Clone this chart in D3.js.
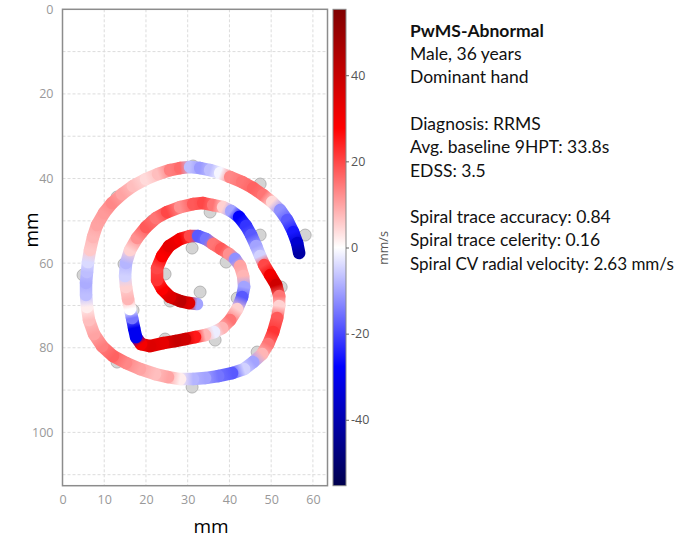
<!DOCTYPE html>
<html>
<head>
<meta charset="utf-8">
<script src="https://cdn.jsdelivr.net/npm/d3@7"></script>
<style>
  body { margin: 0; background: #fff; }
  svg { display: block; }
</style>
</head>
<body>
<div id="chart"></div>
<script>
// spiral trace, centre -> outside (mm), radial velocity (mm/s)
const traceX = [32.25, 30.33, 28.18, 25.78, 23.86, 22.66, 22.66, 23.86, 25.54, 28.18,
  30.57, 32.49, 34.41, 36.09, 38.01, 39.93, 41.37, 42.56, 43.28, 43.52,
  43.04, 41.85, 40.17, 38.25, 36.33, 34.17, 31.77, 29.38, 26.98, 24.10,
  20.98, 18.82, 17.63, 17.15, 16.67, 16.19, 15.71, 15.23, 14.99, 15.23,
  16.19, 17.87, 20.02, 22.42, 25.06, 28.18, 31.29, 33.69, 36.09, 38.49,
  40.41, 42.32, 44.00, 45.20, 46.40, 47.36, 48.32, 49.76, 51.20, 51.92,
  51.92, 51.44, 50.48, 49.28, 47.84, 45.68, 43.52, 40.65, 37.29, 34.17,
  31.29, 28.18, 25.30, 22.18, 18.58, 15.23, 12.11, 9.47, 7.55, 6.35,
  5.88, 5.64, 5.64, 5.88, 6.11, 6.59, 7.31, 8.27, 9.95, 11.87,
  14.27, 16.91, 20.02, 22.90, 25.78, 28.18, 30.57, 32.97, 35.37, 37.77,
  40.17, 43.04, 45.68, 48.08, 50.24, 52.16, 53.84, 55.27, 56.23, 56.71];
const traceY = [69.67, 69.43, 68.96, 68.01, 66.12, 63.99, 61.16, 58.32, 55.96, 54.30,
  53.59, 53.59, 54.30, 55.48, 56.66, 57.85, 59.03, 60.68, 63.05, 65.65,
  68.01, 70.85, 73.45, 75.34, 76.29, 77.00, 77.47, 77.94, 78.41, 78.89,
  79.60, 79.12, 77.47, 75.34, 72.98, 70.85, 68.49, 65.65, 63.05, 59.97,
  56.90, 54.06, 51.46, 49.34, 47.92, 46.74, 46.03, 45.79, 46.26, 46.74,
  47.68, 49.10, 51.23, 53.36, 55.96, 58.32, 60.45, 62.81, 65.18, 67.78,
  70.14, 72.98, 76.29, 79.12, 81.49, 83.38, 85.03, 85.98, 86.69, 87.16,
  87.40, 87.40, 86.92, 86.21, 85.03, 83.61, 81.96, 79.60, 76.76, 73.45,
  70.38, 67.54, 64.70, 62.10, 59.74, 56.90, 53.83, 50.99, 48.15, 45.79,
  43.66, 41.77, 40.12, 38.94, 37.99, 37.52, 37.28, 37.52, 37.99, 38.70,
  39.65, 40.83, 42.25, 43.90, 45.56, 47.45, 49.81, 52.65, 55.25, 57.61];
const traceV = [-10, 35, 42, 35, 28, 22, 20, 28, 33, 30,
  20, -18, -15, 15, 18, 12, -12, 10, 8, -10,
  -18, 5, 15, 8, -2, 8, 25, 38, 40, 33,
  35, 30, -30, -30, -15, 0, 8, 5, -5, -8,
  5, 12, 18, 15, 20, 12, 18, 20, 15, 5,
  -10, -28, -22, -18, -10, -5, 20, 30, 38, 15,
  5, 18, 22, 15, 8, -10, -5, -18, -15, -10,
  -8, 2, 10, 7, 10, 13, 17, 14, 10, 7,
  2, -7, -9, -7, -4, 6, 8, 10, 11, 13,
  10, 7, 4, 7, 14, 16, -7, -11, -7, -1,
  13, 15, 17, 15, 4, -12, -18, -25, -35, -42];

// template reference points (mm)
const refX = [47.36, 58.15, 47.36, 35.37, 21.46, 13.07, 31.05, 39.21, 4.92, 24.58,
  32.97, 25.78, 41.85, 52.40, 16.91, 24.58, 36.57, 46.64, 13.07, 31.05, 14.75, 31.29];
const refY = [41.30, 53.36, 53.36, 47.92, 50.05, 44.37, 56.43, 59.74, 62.81, 62.57,
  66.83, 68.96, 68.25, 65.65, 71.09, 77.94, 78.18, 81.01, 83.38, 89.29, 60.21, 37.04];

const xTicks = [0, 10, 20, 30, 40, 50, 60];
const yTicks = [0, 20, 40, 60, 80, 100];
const gridX = [10, 20, 30, 40, 50, 60];
const gridY = [10, 20, 30, 40, 50, 60, 70, 80, 90, 100, 110];
const cbTicks = [40, 20, 0, -20, -40];
const vMax = 55.3;

const infoLines = [
  { t: "PwMS-Abnormal", bold: true },
  { t: "Male, 36 years" },
  { t: "Dominant hand" },
  { t: "" },
  { t: "Diagnosis: RRMS" },
  { t: "Avg. baseline 9HPT: 33.8s" },
  { t: "EDSS: 3.5" },
  { t: "" },
  { t: "Spiral trace accuracy: 0.84" },
  { t: "Spiral trace celerity: 0.16" },
  { t: "Spiral CV radial velocity: 2.63 mm/s", small: true }
];

const W = 695, H = 540;
const svg = d3.select("#chart").append("svg").attr("width", W).attr("height", H);
const defs = svg.append("defs");

const x = d3.scaleLinear().domain([0, 63.5]).range([62.5, 327.5]);
const y = d3.scaleLinear().domain([0, 112.6]).range([9.3, 485.7]);

// matplotlib "seismic"
const color = d3.scaleLinear()
  .domain([-vMax, -vMax / 2, 0, vMax / 2, vMax])
  .range(["#00004d", "#0000ff", "#ffffff", "#ff0000", "#800000"]);

// grid
const grid = svg.append("g").attr("stroke", "#dcdcdc").attr("stroke-dasharray", "3,2").attr("stroke-width", 1);
grid.selectAll(".gx").data(gridX).join("line")
  .attr("x1", d => x(d)).attr("x2", d => x(d)).attr("y1", y(0)).attr("y2", y(112.6));
grid.selectAll(".gy").data(gridY).join("line")
  .attr("x1", x(0)).attr("x2", x(63.5)).attr("y1", d => y(d)).attr("y2", d => y(d));

// axes (labels only)
const xAxis = svg.append("g").attr("transform", `translate(0,${y(112.6)})`)
  .call(d3.axisBottom(x).tickValues(xTicks).tickSize(0).tickPadding(9));
const yAxis = svg.append("g").attr("transform", `translate(${x(0)},0)`)
  .call(d3.axisLeft(y).tickValues(yTicks).tickSize(0).tickPadding(9));
[xAxis, yAxis].forEach(a => {
  a.select(".domain").remove();
  a.selectAll("text").attr("fill", "#999").style("font-family", "'Open Sans', sans-serif").style("font-size", "12.5px");
});

// reference points
svg.append("g").selectAll("circle").data(refX).join("circle")
  .attr("cx", (d, i) => x(refX[i])).attr("cy", (d, i) => y(refY[i])).attr("r", 6)
  .attr("fill", "#d4d4d4").attr("stroke", "#a8a8a8").attr("stroke-width", 0.8);

// trace segments with colour gradient
const segs = d3.range(traceX.length - 1);
segs.forEach(i => {
  const g = defs.append("linearGradient").attr("id", "sg" + i)
    .attr("gradientUnits", "userSpaceOnUse")
    .attr("x1", x(traceX[i])).attr("y1", y(traceY[i]))
    .attr("x2", x(traceX[i + 1])).attr("y2", y(traceY[i + 1]));
  g.append("stop").attr("offset", 0).attr("stop-color", color(traceV[i]));
  g.append("stop").attr("offset", 1).attr("stop-color", color(traceV[i + 1]));
});
svg.append("g").selectAll("line").data(segs).join("line")
  .attr("x1", i => x(traceX[i])).attr("y1", i => y(traceY[i]))
  .attr("x2", i => x(traceX[i + 1])).attr("y2", i => y(traceY[i + 1]))
  .attr("stroke", i => `url(#sg${i})`)
  .attr("stroke-width", 12.5).attr("stroke-linecap", "round");

// frame
svg.append("rect").attr("x", x(0)).attr("y", y(0))
  .attr("width", x(63.5) - x(0)).attr("height", y(112.6) - y(0))
  .attr("fill", "none").attr("stroke", "#8c8c8c").attr("stroke-width", 1.5);

// axis titles
svg.append("text").attr("x", 211).attr("y", 533).attr("text-anchor", "middle")
  .style("font-family", "'Open Sans', sans-serif").style("font-size", "19px").text("mm");
svg.append("text").attr("transform", "translate(38,230) rotate(-90)").attr("text-anchor", "middle")
  .style("font-family", "'Open Sans', sans-serif").style("font-size", "19px").text("mm");

// colour bar
const cb = d3.scaleLinear().domain([vMax, -vMax]).range([9.3, 485.7]);
const cbg = defs.append("linearGradient").attr("id", "cbGrad")
  .attr("x1", 0).attr("y1", 0).attr("x2", 0).attr("y2", 1);
d3.range(0, 1.0001, 0.05).forEach(t => {
  cbg.append("stop").attr("offset", t).attr("stop-color", color(vMax - t * 2 * vMax));
});
svg.append("rect").attr("x", 333).attr("y", cb(vMax)).attr("width", 13)
  .attr("height", cb(-vMax) - cb(vMax)).attr("fill", "url(#cbGrad)")
  .attr("stroke", "#888").attr("stroke-width", 1);
const cbAxis = svg.append("g").attr("transform", "translate(346,0)")
  .call(d3.axisRight(cb).tickValues(cbTicks).tickFormat(d => String(d)).tickSize(3).tickPadding(2));
cbAxis.select(".domain").remove();
cbAxis.selectAll("line").attr("stroke", "#666");
cbAxis.selectAll("text").attr("fill", "#555").style("font-family", "'Open Sans', sans-serif").style("font-size", "12.5px");
svg.append("text").attr("transform", "translate(388,248) rotate(-90)").attr("text-anchor", "middle")
  .attr("fill", "#555").style("font-family", "'Open Sans', sans-serif").style("font-size", "12.5px").text("mm/s");

// info text
svg.append("g").selectAll("text").data(infoLines).join("text")
  .attr("x", 410).attr("y", (d, i) => 36.7 + i * 23.3)
  .attr("fill", "#111")
  .style("font-family", "Lato, sans-serif")
  .style("font-size", d => d.small ? "17px" : "17.5px")
  .style("font-weight", d => d.bold ? "bold" : "normal")
  .text(d => d.t);
</script>
</body>
</html>
